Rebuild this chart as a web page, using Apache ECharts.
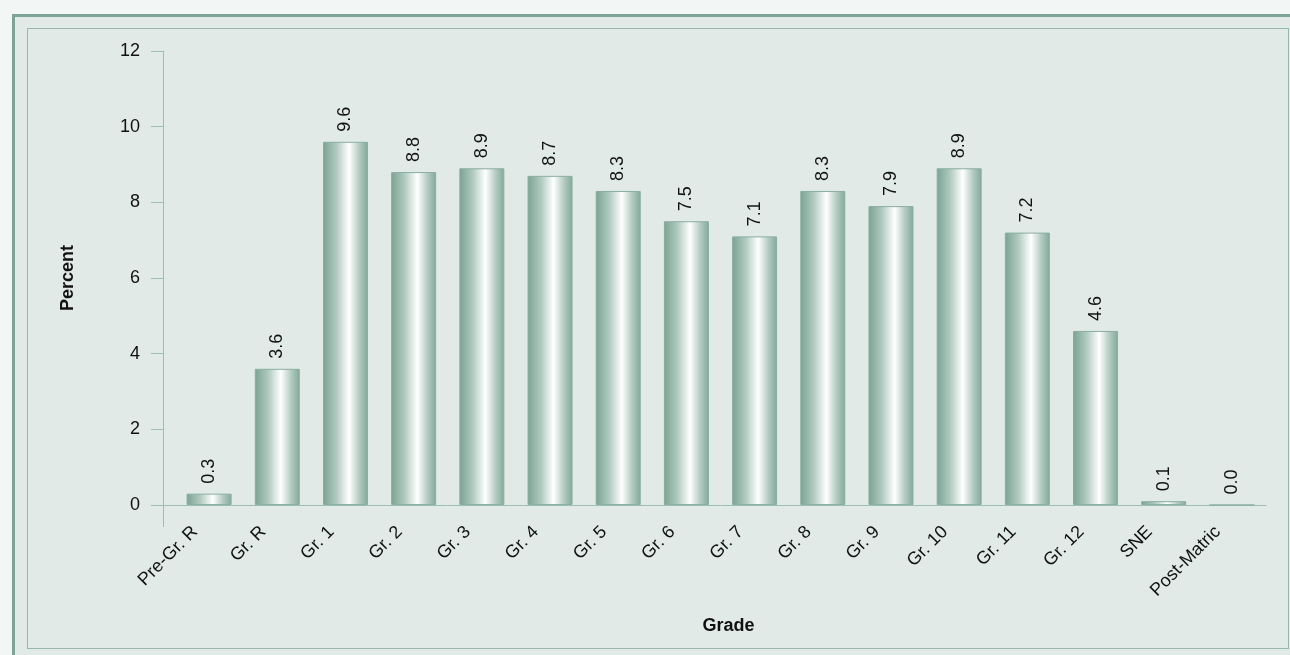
<!DOCTYPE html>
<html>
<head>
<meta charset="utf-8">
<script src="https://cdn.jsdelivr.net/npm/echarts@6/dist/echarts.min.js"></script>
<style>
  html, body { margin: 0; padding: 0; width: 1290px; height: 655px; overflow: hidden; background: #f2f6f5; }
  #outer { position: absolute; left: 12px; top: 14px; width: 1300px; height: 660px; border: 3px solid #7fa394; background: #e1eae7; box-sizing: border-box; }
  #inner { position: absolute; left: 27px; top: 28px; width: 1262px; height: 621px; border: 1px solid #97b8ab; box-sizing: border-box; }
  #chart { position: absolute; left: 0; top: 0; width: 1290px; height: 655px; }
</style>
</head>
<body>
<div id="outer"></div>
<div id="inner"></div>
<div id="chart"></div>
<script>
const categories = ['Pre-Gr. R', 'Gr. R', 'Gr. 1', 'Gr. 2', 'Gr. 3', 'Gr. 4', 'Gr. 5', 'Gr. 6', 'Gr. 7', 'Gr. 8', 'Gr. 9', 'Gr. 10', 'Gr. 11', 'Gr. 12', 'SNE', 'Post-Matric'];
const percentValues = [0.3, 3.6, 9.6, 8.8, 8.9, 8.7, 8.3, 7.5, 7.1, 8.3, 7.9, 8.9, 7.2, 4.6, 0.1, 0.0];
const yTicks = { min: 0, max: 12, interval: 2 };
const xAxisTitle = 'Grade';
const yAxisTitle = 'Percent';

const GRID = { left: 175, right: 24, top: 51, bottom: 150 };
const AXIS_COLOR = '#9dbfb2';
const FONT = 'Liberation Sans, Arial, sans-serif';
const FS = 18;

const chart = echarts.init(document.getElementById('chart'), null, { renderer: 'canvas' });

const option = {
  backgroundColor: 'transparent',
  animation: false,
  grid: GRID,
  xAxis: {
    type: 'category',
    data: categories,
    boundaryGap: true,
    name: xAxisTitle,
    nameLocation: 'middle',
    nameGap: 112,
    nameTextStyle: { fontFamily: FONT, fontSize: FS, fontWeight: 'bold', color: '#111', padding: [0, 0, 0, 16] },
    axisLine: { show: true, lineStyle: { color: AXIS_COLOR, width: 1 } },
    axisTick: { show: false },
    axisLabel: { rotate: 45, fontFamily: FONT, fontSize: FS, color: '#111', margin: 10, interval: 0, padding: [0, 20, 0, 0] },
    splitLine: { show: false }
  },
  yAxis: {
    type: 'value',
    min: yTicks.min,
    max: yTicks.max,
    interval: yTicks.interval,
    offset: 12,
    name: yAxisTitle,
    nameLocation: 'middle',
    nameGap: 86,
    nameRotate: 90,
    nameTextStyle: { fontFamily: FONT, fontSize: FS, fontWeight: 'bold', color: '#111' },
    axisLine: { show: true, lineStyle: { color: AXIS_COLOR, width: 1 } },
    axisTick: { show: true, length: 12, lineStyle: { color: AXIS_COLOR } },
    axisLabel: { fontFamily: FONT, fontSize: FS, color: '#111', margin: 23 },
    splitLine: { show: false }
  },
  series: [{
    type: 'bar',
    data: percentValues,
    barWidth: 45,
    itemStyle: {
      color: new echarts.graphic.LinearGradient(0, 0, 1, 0, [
        { offset: 0, color: '#7aa292' },
        { offset: 0.3, color: '#b0cac0' },
        { offset: 0.58, color: '#ffffff' },
        { offset: 0.8, color: '#b5cdc4' },
        { offset: 1, color: '#82a899' }
      ]),
      borderColor: '#8aaea0',
      borderWidth: 1
    },
    label: {
      show: true,
      position: 'top',
      rotate: 90,
      align: 'left',
      verticalAlign: 'middle',
      distance: 10,
      fontFamily: FONT,
      fontSize: FS,
      color: '#111',
      formatter: p => p.value.toFixed(1)
    }
  }]
};
chart.setOption(option);

// extend axis lines where the two axes cross (decorative)
const zeroY = chart.convertToPixel({ yAxisIndex: 0 }, 0);
const yAxisX = GRID.left - 12;
chart.setOption({
  graphic: [
    { type: 'line', shape: { x1: yAxisX - 12, y1: zeroY + 0.5, x2: GRID.left, y2: zeroY + 0.5 }, style: { stroke: AXIS_COLOR, lineWidth: 1 }, silent: true },
    { type: 'line', shape: { x1: yAxisX + 0.5, y1: zeroY, x2: yAxisX + 0.5, y2: zeroY + 22 }, style: { stroke: AXIS_COLOR, lineWidth: 1 }, silent: true }
  ]
});
</script>
</body>
</html>
